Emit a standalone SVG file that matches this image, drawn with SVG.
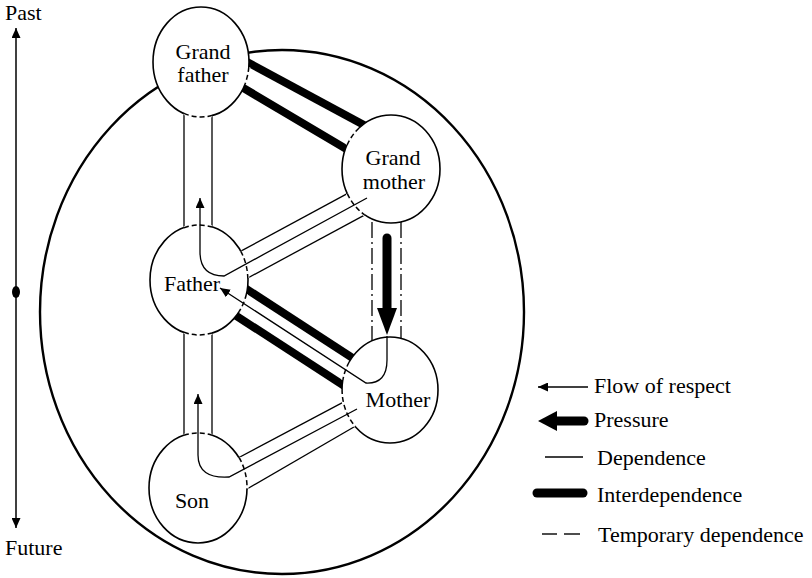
<svg xmlns="http://www.w3.org/2000/svg" width="812" height="578" viewBox="0 0 812 578">
  <defs>
    <marker id="arrow" markerUnits="userSpaceOnUse" viewBox="0 0 10 9" markerWidth="10" markerHeight="9" refX="10" refY="4.5" orient="auto-start-reverse">
      <path d="M0,0 L10,4.5 L0,9 z" fill="#000"/>
    </marker>
  </defs>
  <style>
    .txt { font-family: "Liberation Serif", "Times New Roman", serif; font-size: 22px; fill: #000; }
    .mid { text-anchor: middle; }
    .node { fill: #fff; stroke: #000; stroke-width: 1.6; }
    .open-bg { fill: none; stroke: #fff; stroke-width: 3; }
    .open { fill: none; stroke: #000; stroke-width: 1.5; stroke-dasharray: 5 3; }
    .dep { fill: none; stroke: #000; stroke-width: 1.3; }
    .inter { fill: none; stroke: #000; stroke-width: 8; }
    .temp { fill: none; stroke: #000; stroke-width: 1.3; stroke-dasharray: 16 4 2 4; }
    .respect { fill: none; stroke: #000; stroke-width: 1.3; marker-end: url(#arrow); }
  </style>

  <rect width="812" height="578" fill="#fff"/>

  <!-- time axis -->
  <g id="timeline">
    <text class="txt" x="5" y="20">Past</text>
    <line x1="16" y1="28" x2="16" y2="528" stroke="#000" stroke-width="1.5" marker-start="url(#arrow)" marker-end="url(#arrow)"/>
    <ellipse cx="16" cy="292" rx="4" ry="6" fill="#000"/>
    <text class="txt" x="5" y="555">Future</text>
  </g>

  <!-- household boundary -->
  <ellipse id="household" cx="282" cy="312" rx="242" ry="262" fill="none" stroke="#000" stroke-width="2.4"/>

  <!-- links between members (ends tucked under the node fills) -->
  <g id="connectors">
    <!-- grandfather - father tube -->
    <line class="dep" x1="184" y1="105" x2="184" y2="235"/>
    <line class="dep" x1="212" y1="105" x2="212" y2="235"/>
    <!-- father - son tube -->
    <line class="dep" x1="184" y1="325" x2="184" y2="445"/>
    <line class="dep" x1="212" y1="325" x2="212" y2="445"/>
    <!-- grandmother - father dependence -->
    <line class="dep" x1="235.7" y1="253.9" x2="351.9" y2="191.1"/>
    <line class="dep" x1="243.2" y1="280.5" x2="370" y2="212.1"/>
    <!-- son - mother dependence -->
    <line class="dep" x1="234.7" y1="459.8" x2="347.6" y2="399.9"/>
    <line class="dep" x1="241.4" y1="492.3" x2="360.4" y2="423.3"/>
    <!-- grandfather - grandmother interdependence -->
    <line class="inter" x1="242" y1="59.2" x2="369" y2="127.8"/>
    <line class="inter" x1="236.4" y1="83.9" x2="354.9" y2="154.1"/>
    <!-- father - mother interdependence -->
    <line class="inter" x1="241.3" y1="285.6" x2="357" y2="360.9"/>
    <line class="inter" x1="229.3" y1="311.3" x2="348.4" y2="388.7"/>
    <!-- grandmother - mother temporary dependence -->
    <line class="temp" x1="372" y1="222" x2="372" y2="345"/>
    <line class="temp" x1="401" y1="222" x2="401" y2="345"/>
  </g>

  <g id="grandfather">
    <ellipse class="node" cx="201" cy="62" rx="48" ry="55"/>
    <path class="open-bg" d="M184,113.4 A48,55 0 0 0 212,115.5"/>
    <path class="open" d="M184,113.4 A48,55 0 0 0 212,115.5"/>
    <path class="open-bg" d="M248.8,67 A48,55 0 0 1 245,84"/>
    <path class="open" d="M248.8,67 A48,55 0 0 1 245,84"/>
    <text class="txt mid" x="203" y="59">Grand</text>
    <text class="txt mid" x="203" y="82">father</text>
  </g>

  <g id="grandmother">
    <ellipse class="node" cx="391" cy="169" rx="49" ry="54"/>
    <path class="open-bg" d="M359.1,128 A49,54 0 0 0 347.1,145"/>
    <path class="open" d="M359.1,128 A49,54 0 0 0 347.1,145"/>
    <path class="open-bg" d="M347.3,193.6 A49,54 0 0 0 364.7,214.9"/>
    <path class="open" d="M347.3,193.6 A49,54 0 0 0 364.7,214.9"/>
    <text class="txt mid" x="393" y="165">Grand</text>
    <text class="txt mid" x="394" y="189">mother</text>
  </g>

  <g id="father">
    <ellipse class="node" cx="199" cy="280" rx="49" ry="55"/>
    <path class="open-bg" d="M184,227.7 A49,55 0 0 1 212,227"/>
    <path class="open" d="M184,227.7 A49,55 0 0 1 212,227"/>
    <path class="open-bg" d="M240.7,251.1 A49,55 0 0 1 247.8,278"/>
    <path class="open" d="M240.7,251.1 A49,55 0 0 1 247.8,278"/>
    <path class="open-bg" d="M246.4,294 A49,55 0 0 1 239.2,311.5"/>
    <path class="open" d="M246.4,294 A49,55 0 0 1 239.2,311.5"/>
    <path class="open-bg" d="M184,332.3 A49,55 0 0 0 212,333"/>
    <path class="open" d="M184,332.3 A49,55 0 0 0 212,333"/>
    <text class="txt mid" x="192" y="291">Father</text>
  </g>

  <g id="mother">
    <ellipse class="node" cx="390" cy="390" rx="48" ry="53"/>
    <path class="open-bg" d="M349.2,362 A48,53 0 0 0 342.9,380"/>
    <path class="open" d="M349.2,362 A48,53 0 0 0 342.9,380"/>
    <path class="open-bg" d="M342.1,389 A48,53 0 0 0 355.2,426.3"/>
    <path class="open" d="M342.1,389 A48,53 0 0 0 355.2,426.3"/>
    <text class="txt mid" x="398" y="407">Mother</text>
  </g>

  <g id="son">
    <ellipse class="node" cx="198" cy="488" rx="49" ry="55"/>
    <path class="open-bg" d="M184,435.3 A49,55 0 0 1 212,435.3"/>
    <path class="open" d="M184,435.3 A49,55 0 0 1 212,435.3"/>
    <path class="open-bg" d="M239.1,457.5 A49,55 0 0 1 247,489"/>
    <path class="open" d="M239.1,457.5 A49,55 0 0 1 247,489"/>
    <text class="txt mid" x="192" y="508">Son</text>
  </g>

  <!-- flows of respect and pressure drawn over the members -->
  <g id="flows">
    <path class="respect" d="M367,198 L224,276 Q200,276 200,252 L200,198"/>
    <path class="respect" d="M387,336 L387,360 Q387,384 366,383 L220,288"/>
    <path class="respect" d="M357,409 L229,477 Q198,479 198,455 L198,394"/>
    <line x1="387" y1="238" x2="387" y2="312" stroke="#000" stroke-width="9" stroke-linecap="round"/>
    <polygon points="377,308 397,308 387,335" fill="#000"/>
  </g>

  <g id="legend">
    <line class="respect" x1="588" y1="387" x2="538" y2="387"/>
    <text class="txt" x="594" y="393">Flow of respect</text>
    <line x1="584" y1="421" x2="555" y2="421" stroke="#000" stroke-width="9" stroke-linecap="round"/>
    <polygon points="557,411 557,431 538,421" fill="#000"/>
    <text class="txt" x="594" y="427">Pressure</text>
    <line class="dep" x1="545" y1="457" x2="583" y2="457"/>
    <text class="txt" x="597" y="465">Dependence</text>
    <line x1="537" y1="493" x2="583" y2="493" stroke="#000" stroke-width="9" stroke-linecap="round"/>
    <text class="txt" x="597" y="502">Interdependence</text>
    <line x1="542" y1="534" x2="557" y2="534" stroke="#000" stroke-width="1.4"/>
    <line x1="564" y1="534" x2="580" y2="534" stroke="#000" stroke-width="1.4"/>
    <text class="txt" x="598" y="542">Temporary dependence</text>
  </g>
</svg>
